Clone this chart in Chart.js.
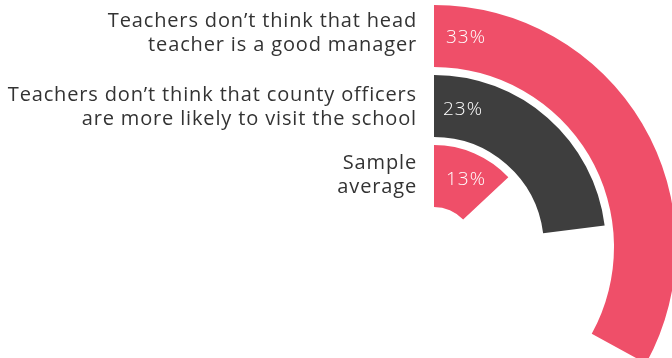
<!DOCTYPE html>
<html>
<head>
<meta charset="utf-8">
<script src="https://cdn.jsdelivr.net/npm/chart.js@4.4.0/dist/chart.umd.min.js"></script>
<style>
  html, body { margin: 0; padding: 0; background: #fff; overflow: hidden; width: 672px; height: 358px; }
  canvas { position: absolute; left: 0; top: 0; }
</style>
</head>
<body>
<canvas id="radial" width="680" height="493"></canvas>
<script>
// Adatok
const categories = [
    ['Teachers don\u2019t think that head', 'teacher is a good manager'],
    ['Teachers don\u2019t think that county officers', 'are more likely to visit the school'],
    ['Sample', 'average']
];
const values = [33, 23, 13];
const colors = ['#ef4f69', '#3e3e3e', '#ef4f69'];

const FONT = '"Open Sans", Lato, sans-serif';

// Gyűrűk + átlátszó hézagok
const datasets = [];
values.forEach((v, i) => {
    if (i > 0) {
        datasets.push({ data: [100], backgroundColor: ['rgba(0,0,0,0)'], weight: 8, isGap: true });
    }
    datasets.push({
        data: [v, 100 - v],
        backgroundColor: [colors[i], 'rgba(0,0,0,0)'],
        weight: 62,
        idx: i
    });
});

const labelOffsets = [-3, 1, -1];
const pctOffsets = [[12, 2], [9, 4], [12, 4]];

const labelPlugin = {
    id: 'radialLabels',
    afterDraw(chart) {
        const ctx = chart.ctx;
        ctx.save();
        chart.data.datasets.forEach((ds, di) => {
            if (ds.isGap) return;
            const arc = chart.getDatasetMeta(di).data[0];
            const mid = (arc.innerRadius + arc.outerRadius) / 2;
            const y = arc.y - mid;

            // százalék
            ctx.fillStyle = '#ffffff';
            ctx.font = '300 19px ' + FONT;
            ctx.letterSpacing = '1px';
            ctx.textAlign = 'left';
            ctx.textBaseline = 'middle';
            const po = pctOffsets[ds.idx];
            ctx.fillText(values[ds.idx] + '%', arc.x + po[0], y + po[1]);

            // kategória
            ctx.fillStyle = '#333333';
            ctx.font = '400 20px ' + FONT;
            ctx.letterSpacing = '0.85px';
            ctx.textAlign = 'right';
            const lines = categories[ds.idx];
            const lh = 24;
            const top = y + labelOffsets[ds.idx] - (lines.length - 1) * lh / 2;
            lines.forEach((line, li) => {
                ctx.fillText(line, arc.x - 17, top + li * lh);
            });
        });
        ctx.restore();
    }
};

new Chart(document.getElementById('radial').getContext('2d'), {
    type: 'doughnut',
    data: { datasets: datasets },
    options: {
        responsive: false,
        animation: false,
        cutout: 40,
        borderWidth: 0,
        layout: { padding: { left: 192, right: 4, top: 5, bottom: 4 } },
        plugins: {
            legend: { display: false },
            tooltip: { enabled: false }
        },
        events: []
    },
    plugins: [labelPlugin]
});
</script>
</body>
</html>
